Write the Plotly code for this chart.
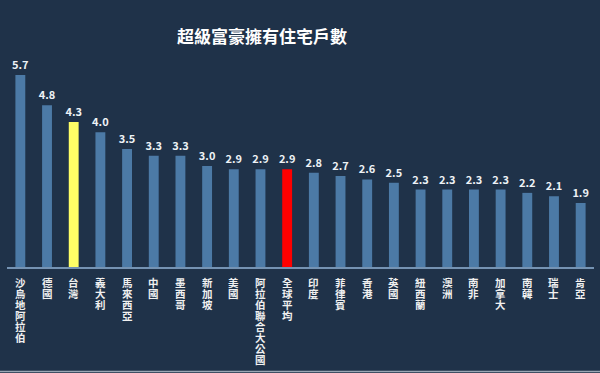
import plotly.graph_objects as go

categories = ["沙烏地阿拉伯", "德國", "台灣", "義大利", "馬來西亞", "中國", "墨西哥", "新加坡",
              "美國", "阿拉伯聯合大公國", "全球平均", "印度", "菲律賓", "香港", "英國", "紐西蘭",
              "澳洲", "南非", "加拿大", "南韓", "瑞士", "肯亞"]
values = [5.7, 4.8, 4.3, 4.0, 3.5, 3.3, 3.3, 3.0, 2.9, 2.9, 2.9, 2.8, 2.7, 2.6, 2.5, 2.3,
          2.3, 2.3, 2.3, 2.2, 2.1, 1.9]
title = "超級富豪擁有住宅戶數"

BG = "#1f3249"
BAR = "#4c7aa6"
colors = []
for c in categories:
    if c == "台灣":
        colors.append("#ffff66")
    elif c == "全球平均":
        colors.append("#ff0000")
    else:
        colors.append(BAR)

FONT = "Noto Sans CJK TC"
H, T, B = 373, 48, 106
plot_h = H - T - B

fig = go.Figure(go.Bar(
    x=categories, y=values,
    marker=dict(color=colors, line=dict(width=0)),
    text=[f"{v:.1f}" for v in values],
    textposition="outside",
    constraintext="none",
    textfont=dict(family=FONT, size=11, color="#eef2f6", weight="bold"),
    cliponaxis=False,
    hoverinfo="skip",
))

# vertical (stacked-character) category labels
annotations = []
first_off, pitch = 15.0, 11.1
for c in categories:
    for k, ch in enumerate(c):
        annotations.append(dict(
            x=c, xref="x", yref="paper",
            y=-(first_off + k * pitch) / plot_h,
            text=ch, showarrow=False, xanchor="center", yanchor="middle",
            font=dict(family=FONT, size=10.5, color="#f0f0f0", weight="bold"),
        ))

fig.update_layout(
    width=600, height=H,
    paper_bgcolor=BG, plot_bgcolor=BG,
    margin=dict(l=7, r=6, t=T, b=B),
    bargap=0.63,
    showlegend=False,
    annotations=annotations,
    shapes=[dict(type="line", xref="paper", yref="paper", x0=-0.02, x1=1.02,
                 y0=-(B - 1.5) / plot_h, y1=-(B - 1.5) / plot_h,
                 line=dict(color="#9aa7b4", width=1.5))],
    title=dict(text=title, x=262/600, xanchor="center", xref="container",
               y=1-37/373, yanchor="middle", yref="container",
               font=dict(family=FONT, size=17, color="#ffffff", weight="bold")),
    xaxis=dict(
        showticklabels=False,
        showline=True, linecolor="#7593b3", linewidth=1.5,
        ticks="", showgrid=False, zeroline=False,
    ),
    yaxis=dict(range=[0, 6.5], visible=False, showgrid=False, zeroline=False),
)

fig.write_html("out.html", config={"displayModeBar": False},
               post_script="document.body.style.margin='0';document.body.style.background='%s';" % BG)
